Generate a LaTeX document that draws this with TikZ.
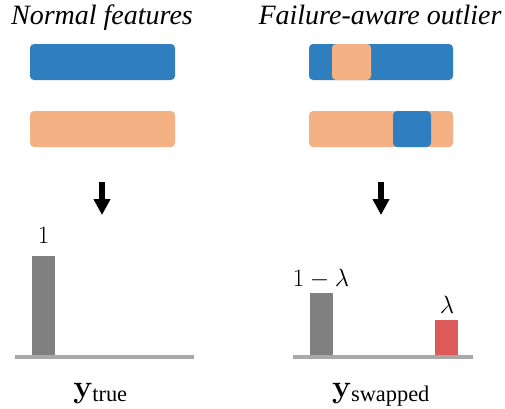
\RequirePackage{fix-cm}
\documentclass[tikz,border=0pt]{standalone}
\usepackage[no-math]{fontspec}
\setmainfont{Liberation Serif}
\usepackage{amsmath}
\usetikzlibrary{arrows.meta}
\definecolor{featblue}{HTML}{2F7EC0}
\definecolor{featorange}{HTML}{F4B183}
\definecolor{bargray}{HTML}{808080}
\definecolor{axisgray}{HTML}{A8A8A8}
\definecolor{barred}{HTML}{DC5A5A}

\begin{document}
\begin{tikzpicture}[x=1pt,y=-1pt,
  feat/.style={rounded corners=4pt},
  axis/.style={draw=axisgray,line width=4pt},
  downarrow/.style={line width=6pt,-{Triangle[width=16pt,length=16pt]}},
  title/.style={font=\fontsize{28}{30}\selectfont\itshape,anchor=base,inner sep=0pt},
  num/.style={font=\fontsize{25}{27}\selectfont,anchor=base,inner sep=0pt},
  ylabel/.style={font=\fontsize{32}{34}\selectfont,anchor=base,inner sep=0pt}]
  \useasboundingbox (0,0) rectangle (505,408);

  % titles
  \node[title] (normal) at (102,24) {Normal features};
  \node[title] (outlier) at (380,24) {Failure-aware outlier};

  % left features
  \fill[feat,featblue](30,44)rectangle(175,80);
  \fill[feat,featorange](30,111)rectangle(175,147);

  % right features, swapped patches
  \fill[feat,featblue](309,44)rectangle(453,80);
  \fill[feat,featorange](332,44)rectangle(371,80);
  \fill[feat,featorange](309,111)rectangle(453,147);
  \fill[feat,featblue](393,111)rectangle(431,147);

  % arrows
  \coordinate (ltop) at (102,182);
  \coordinate (lbot) at (102,215);
  \coordinate (rtop) at (381,182);
  \coordinate (rbot) at (381,215);
  \draw[downarrow](ltop)--(lbot);
  \draw[downarrow](rtop)--(rbot);

  % left histogram
  \fill[bargray](32,256)rectangle(55,356);
  \draw[axis](15,357)--(194,357);
  \node[num] (one) at (43.5,243.5) {$1$};
  \node[ylabel] (ytrue) at (100.5,397) {$\mathbf{y}_{\text{true}}$};

  % right histogram
  \fill[bargray](310,293)rectangle(333,356);
  \fill[barred](435,320)rectangle(458,356);
  \draw[axis](293,357)--(473,357);
  \node[num] (onelam) at (321,286) {$1-\lambda$};
  \node[num] (lam) at (447,313) {$\lambda$};
  \node[ylabel] (yswap) at (381,397) {$\mathbf{y}_{\text{swapped}}$};
\end{tikzpicture}
\end{document}
